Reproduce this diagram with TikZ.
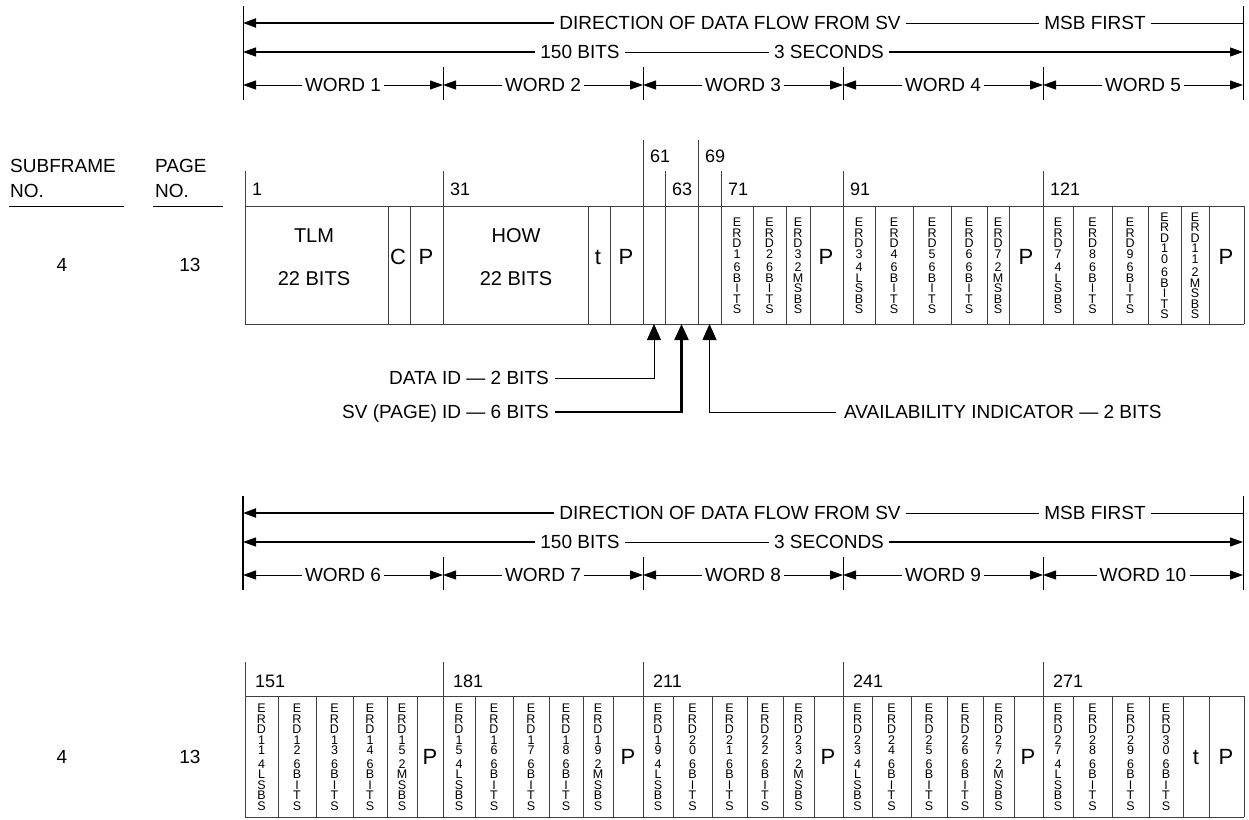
\documentclass[tikz,border=0pt]{standalone}
\usepackage{fontspec}
\setmainfont{Liberation Sans}
\usetikzlibrary{calc,arrows.meta}

% stacked letters for the narrow cells
\makeatletter
\def\stk@#1#2\@nil{#1\ifx\relax#2\relax\else\\\stk@#2\@nil\fi}
\newcommand\stk[1]{\edef\stk@arg{#1}\expandafter\stk@\stk@arg\@nil}
\makeatother
\newcommand\erd[2]{\stk{ERD#1}\\[3pt]\stk{#2}}

\begin{document}
\begin{tikzpicture}[x=1pt, y=-1pt,
    lbl/.style={font=\fontsize{19}{23}\selectfont, inner xsep=5pt, inner ysep=3pt, text height=13.6pt, text depth=0pt},
    hd/.style={font=\fontsize{19}{23}\selectfont, inner sep=0pt, anchor=base west},
    num/.style={font=\fontsize{18}{20}\selectfont, inner sep=0pt, anchor=base west},
    cel/.style={font=\fontsize{20}{24}\selectfont, inner sep=0pt, text height=14pt, text depth=0pt},
    big/.style={font=\fontsize{22}{24}\selectfont, inner sep=0pt},
    vert/.style={font=\fontsize{12.5}{10.5}\selectfont, align=center, inner sep=0pt},
    frm/.style={draw=black!75, line width=0.9pt},
    htip/.style={-{Triangle[length=13pt,width=9pt]}},
    utip/.style={-{Triangle[length=16pt,width=14pt]}}]
    \useasboundingbox (0,0) rectangle (1249,819);

    % headers (above each frame)
    \foreach \hy/\wa/\lw in {0/0/0.8pt, 490/5/2.4pt}{
        \path[draw, line width=\lw](243,6+\hy) to (243,100+\hy);
        \path[draw, line width=0.8pt](1243,6+\hy) to (1243,100+\hy);
        \foreach \sx in {443,643,843,1043}
            \path[draw, line width=0.8pt](\sx,67+\hy) to (\sx,100+\hy);
        % direction
        \coordinate(da\hy) at (243,23+\hy);
        \coordinate(db\hy) at (1243,23+\hy);
        \node[lbl](dir\hy) at (730,23+\hy) {DIRECTION OF DATA FLOW FROM SV};
        \node[lbl](msb\hy) at (1095,23+\hy) {MSB FIRST};
        \path[draw, line width=2pt, htip](dir\hy) to (da\hy);
        \path[draw, line width=0.7pt](dir\hy) to (msb\hy);
        \path[draw, line width=0.7pt](msb\hy) to (db\hy);
        % length
        \coordinate(ba\hy) at (243,52+\hy);
        \coordinate(bb\hy) at (1243,52+\hy);
        \node[lbl](bits\hy) at (580,52+\hy) {150 BITS};
        \node[lbl](sec\hy) at (829,52+\hy) {3 SECONDS};
        \path[draw, line width=1.2pt, htip](bits\hy) to (ba\hy);
        \path[draw, line width=0.7pt](bits\hy) to (sec\hy);
        \path[draw, line width=1.2pt, htip](sec\hy) to (bb\hy);
        % words
        \foreach \k in {0,...,4}{
            \pgfmathtruncatemacro\wn{\k+1+\wa}
            \coordinate(wl\hy-\k) at (243+200*\k,85+\hy);
            \coordinate(wr\hy-\k) at (443+200*\k,85+\hy);
            \node[lbl, inner xsep=3pt](w\hy-\k) at (343+200*\k,85+\hy) {WORD \wn};
            \path[draw, line width=1pt, htip](w\hy-\k) to (wl\hy-\k);
            \path[draw, line width=1pt, htip](w\hy-\k) to (wr\hy-\k);
        }
    }

    % subframe / page
    \node[hd](sub) at (10,172) {SUBFRAME};
    \node[hd](subno) at (10,197) {NO.};
    \node[hd](pg) at (155,172) {PAGE};
    \node[hd](pgno) at (155,197) {NO.};
    \path[draw, line width=0.8pt](9,206) to (124,206);
    \path[draw, line width=0.8pt](153,206) to (223,206);
    \node[lbl](sf1) at (62,265) {4};
    \node[lbl](pn1) at (190,265) {13};
    \node[lbl](sf2) at (62,757) {4};
    \node[lbl](pn2) at (190,757) {13};

    % frame 1
    \path[frm](245,206) to (1244,206);
    \path[frm](245,324) to (1244,324);
    \path[frm](245,171) to (245,324);
    \path[frm](1244,206) to (1244,324);
    \foreach \cx in {388,410,588,610,753,786,810,875,913,951,987,1009,1073,1112,1148,1181,1209}
        \path[frm](\cx,206) to (\cx,324);
    \foreach \cx/\cy in {443/171, 643/140, 665/171, 698/140, 721/171, 843/171, 1043/171}
        \path[frm](\cx,\cy) to (\cx,324);
    \foreach \cx/\cy/\n in {245/195/1, 443/195/31, 643/162/61, 665/195/63, 698/162/69, 721/195/71, 843/195/91, 1043/195/121}
        \node[num](n\n) at (\cx+7,\cy) {\n};
    \node[cel](tlm) at (314,235) {TLM};
    \node[cel](tlmb) at (314,278) {22 BITS};
    \node[big](cc) at (398,257) {C};
    \node[big](p1) at (426,257) {P};
    \node[cel](how) at (516,235) {HOW};
    \node[cel](howb) at (516,278) {22 BITS};
    \node[big](tt1) at (598,257) {t};
    \node[big](p2) at (626,257) {P};
    \foreach \xa/\xb/\e/\b in {721/753/1/6BITS, 753/786/2/6BITS, 786/810/3/2MSBS,
        843/875/3/4LSBS, 875/913/4/6BITS, 913/951/5/6BITS, 951/987/6/6BITS, 987/1009/7/2MSBS,
        1043/1073/7/4LSBS, 1073/1112/8/6BITS, 1112/1148/9/6BITS, 1148/1181/10/6BITS, 1181/1209/11/2MSBS}
        \node[vert](v\xa) at ({(\xa+\xb)/2},266) {\erd{\e}{\b}};
    \foreach \cx in {826,1026,1226}
        \node[big](pp\cx) at (\cx,257) {P};

    % id bits
    \coordinate(pid) at (654,324);
    \coordinate(psv) at (681.5,324);
    \coordinate(pav) at (709.5,324);
    \node[lbl, anchor=east, inner xsep=6pt](did) at (555,378) {DATA ID — 2 BITS};
    \node[lbl, anchor=east, inner xsep=6pt](svid) at (555,412) {SV (PAGE) ID — 6 BITS};
    \node[lbl, anchor=west, inner xsep=8pt](avi) at (836,412) {AVAILABILITY INDICATOR — 2 BITS};
    \path[draw, line width=0.8pt, utip](did) -| (pid);
    \path[draw, line width=2.2pt, utip](svid) -| (psv);
    \path[draw, line width=0.8pt, utip](avi) -| (pav);

    % frame 2
    \path[frm](245,696) to (1244,696);
    \path[frm](245,817) to (1244,817);
    \path[frm](1244,696) to (1244,817);
    \foreach \cx in {245,443,643,843,1043}
        \path[frm](\cx,662) to (\cx,817);
    \foreach \cx in {278,316,353,387,417,475,513,549,583,613,673,712,747,783,814,872,911,947,983,1014,1073,1112,1149,1183,1209}
        \path[frm](\cx,696) to (\cx,817);
    \foreach \cx/\n in {245/151, 443/181, 643/211, 843/241, 1043/271}
        \node[num](n\n) at (\cx+10,687) {\n};
    \foreach \xa/\xb/\e/\b in {245/278/11/4LSBS, 278/316/12/6BITS, 316/353/13/6BITS, 353/387/14/6BITS, 387/417/15/2MSBS,
        443/475/15/4LSBS, 475/513/16/6BITS, 513/549/17/6BITS, 549/583/18/6BITS, 583/613/19/2MSBS,
        643/673/19/4LSBS, 673/712/20/6BITS, 712/747/21/6BITS, 747/783/22/6BITS, 783/814/23/2MSBS,
        843/872/23/4LSBS, 872/911/24/6BITS, 911/947/25/6BITS, 947/983/26/6BITS, 983/1014/27/2MSBS,
        1043/1073/27/4LSBS, 1073/1112/28/6BITS, 1112/1149/29/6BITS, 1149/1183/30/6BITS}
        \node[vert](u\xa) at ({(\xa+\xb)/2},757) {\erd{\e}{\b}};
    \foreach \cx in {430,628,828,1028,1226}
        \node[big](q\cx) at (\cx,757) {P};
    \node[big](tt2) at (1196,757) {t};
\end{tikzpicture}
\end{document}
